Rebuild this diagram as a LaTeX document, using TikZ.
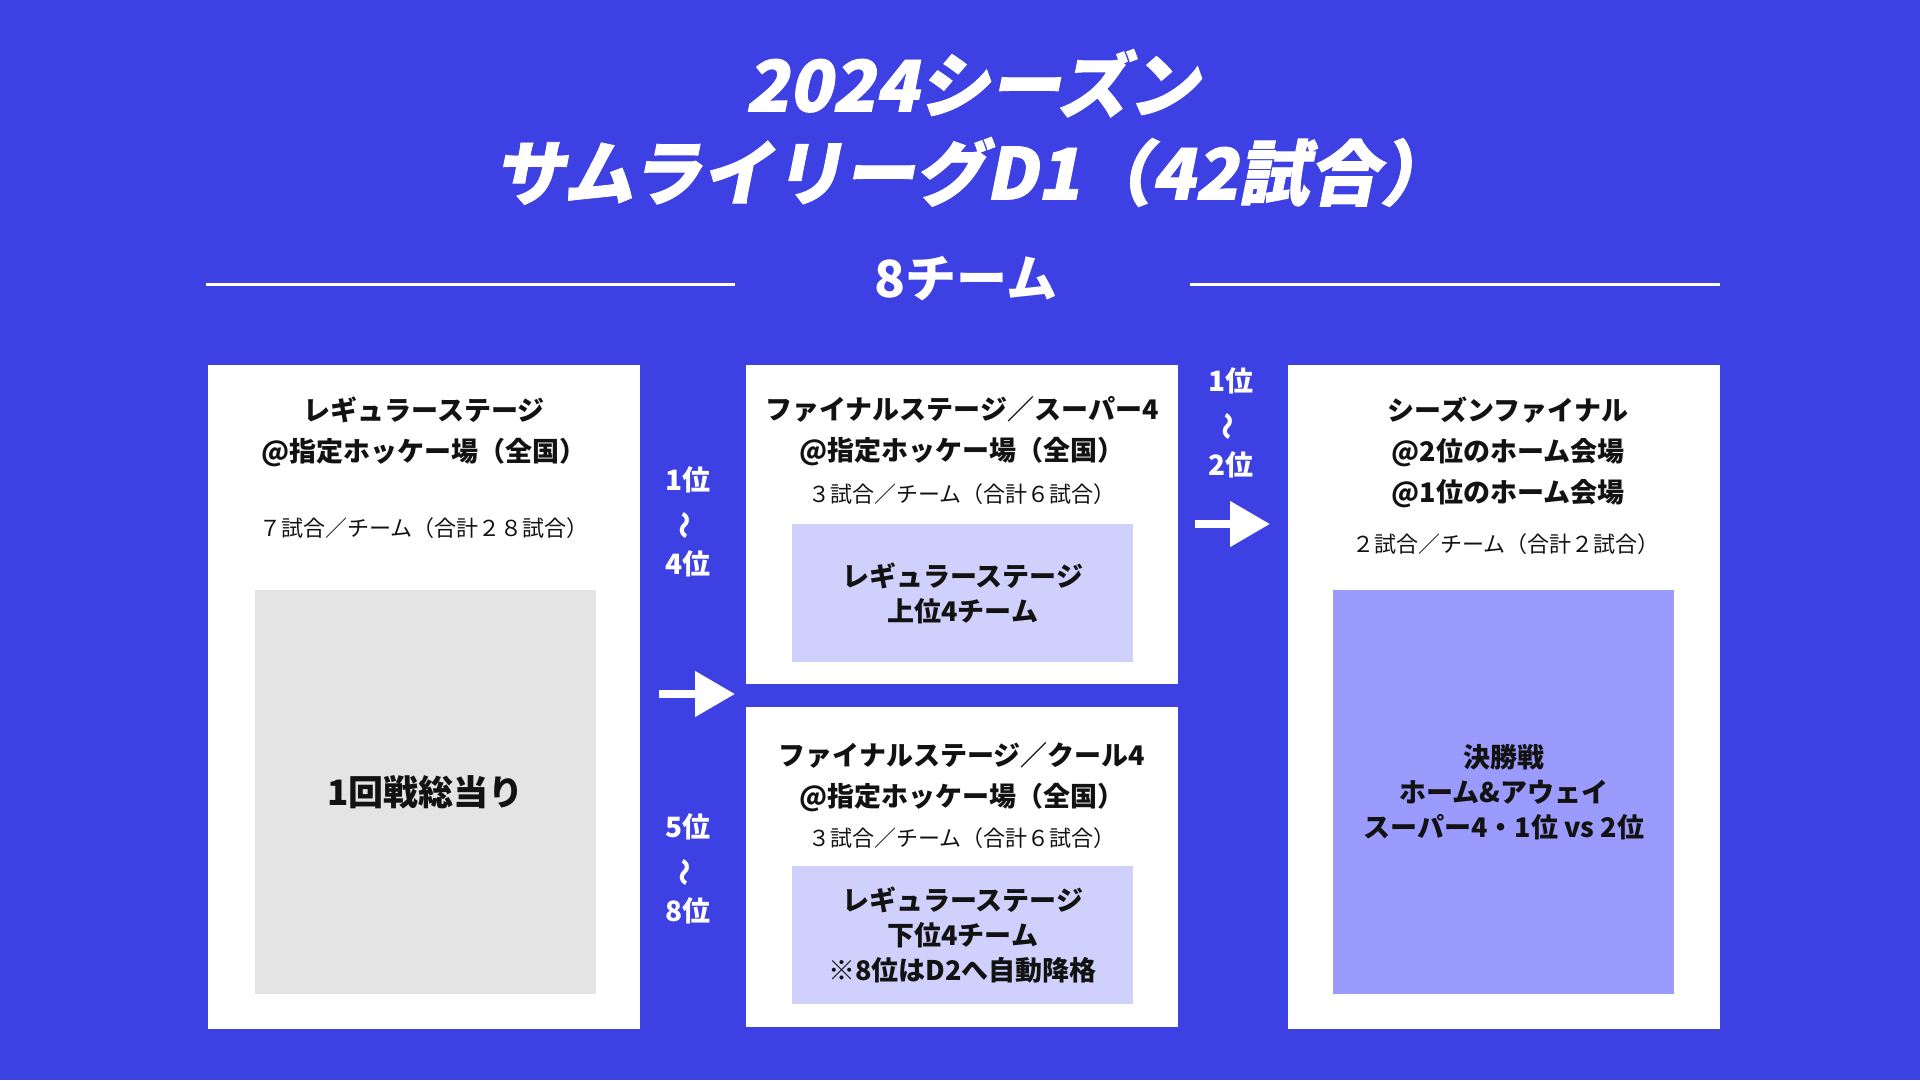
\documentclass[tikz,border=0pt]{standalone}
\usepackage{fontspec}
\newfontfamily\jp{Noto Sans CJK JP}
\newfontfamily\jpslant[FakeSlant=0.2,BoldFeatures={FakeBold=1.2}]{Noto Sans CJK JP}
\usetikzlibrary{arrows.meta,positioning}
\definecolor{bgblue}{HTML}{3D40E2}
\definecolor{lavender}{HTML}{D0D0FC}
\definecolor{periwinkle}{HTML}{9A9BFD}
\definecolor{boxgray}{HTML}{E4E4E4}

\begin{document}
\begin{tikzpicture}[x=1pt,y=-1pt,
                    panel/.style={fill=white,anchor=north west,inner sep=0pt,minimum width=432pt},
                    pad/.style={anchor=north west,inner sep=0pt,minimum width=341pt},
                    head/.style={font=\jp\bfseries\fontsize{27}{41}\selectfont,align=center,text=black!93},
                    note/.style={font=\jp\fontsize{22}{30}\selectfont,text=black!93},
                    inside/.style={font=\jp\bfseries\fontsize{27}{35}\selectfont,align=center,text=black!93},
                    rank/.style={font=\jp\bfseries\fontsize{28}{42}\selectfont,align=center,text=white},
                    flow/.style={white,line width=8pt,-{Triangle[length=40pt,width=44pt]}}]

        \fill[bgblue] (0,0) rectangle (1920,1080);

        % title
        \node[font=\jpslant\bfseries\fontsize{71}{88}\selectfont,align=center,text=white] (title) at (972,128)
             {2024シーズン\\サムライリーグD1（42試合）};
        \node[font=\jp\bfseries\fontsize{51}{51}\selectfont,text=white] (teams) at (966,279) {8チーム};
        \coordinate (ruleL1) at (206,284);
        \coordinate (ruleL2) at (735,284);
        \coordinate (ruleR1) at (1190,284);
        \coordinate (ruleR2) at (1720,284);
        \draw[white,line width=3pt] (ruleL1) -- (ruleL2) (ruleR1) -- (ruleR2);

        % stages
        \node[panel,minimum height=664pt] (regular) at (208,365) {};
        \node[panel,minimum height=319pt] (super) at (746,365) {};
        \node[panel,minimum height=320pt] (cool) at (746,707) {};
        \node[panel,minimum height=664pt] (final) at (1288,365) {};

        \node[pad,fill=boxgray,minimum height=404pt] (league) at (255,590) {};
        \node[pad,fill=lavender,minimum height=138pt] (upper) at (792,524) {};
        \node[pad,fill=lavender,minimum height=138pt] (lower) at (792,866) {};
        \node[pad,fill=periwinkle,minimum height=404pt] (decider) at (1333,590) {};

        \node[head] (regularhead) at (424,432) {レギュラーステージ\\@指定ホッケー場（全国）};
        \node[note] (regularnote) at (424,528) {７試合／チーム（合計２８試合）};
        \node[font=\jp\bfseries\fontsize{35}{35}\selectfont,text=black!93] at (league.center) {1回戦総当り};

        \node[head] (superhead) at (962,431) {ファイナルステージ／スーパー4\\@指定ホッケー場（全国）};
        \node[note] (supernote) at (962,494) {３試合／チーム（合計６試合）};
        \node[inside] at (upper.center) {レギュラーステージ\\上位4チーム};

        \node[head] (coolhead) at (962,777) {ファイナルステージ／クール4\\@指定ホッケー場（全国）};
        \node[note] (coolnote) at (962,838) {３試合／チーム（合計６試合）};
        \node[inside] at (lower.center) {レギュラーステージ\\下位4チーム\\※8位はD2へ自動降格};

        \node[head] (finalhead) at (1508,452) {シーズンファイナル\\@2位のホーム会場\\@1位のホーム会場};
        \node[note] (finalnote) at (1506,544) {２試合／チーム（合計２試合）};
        \node[inside] at (decider.center) {決勝戦\\ホーム\&アウェイ\\スーパー4・1位 vs 2位};

        % ranks and arrows
        \node[rank] (top4) at (688,522) {1位\\\rotatebox[origin=c]{90}{～}\\4位};
        \node[rank] (low4) at (688,869) {5位\\\rotatebox[origin=c]{90}{～}\\8位};
        \node[rank] (top2) at (1231,423) {1位\\\rotatebox[origin=c]{90}{～}\\2位};

        \coordinate (split1) at (659,694);
        \coordinate (split2) at (735,694);
        \coordinate (go1) at (1195,524);
        \coordinate (go2) at (1270,524);
        \path (split1) edge[flow] (split2)
              (go1) edge[flow] (go2);
\end{tikzpicture}
\end{document}
